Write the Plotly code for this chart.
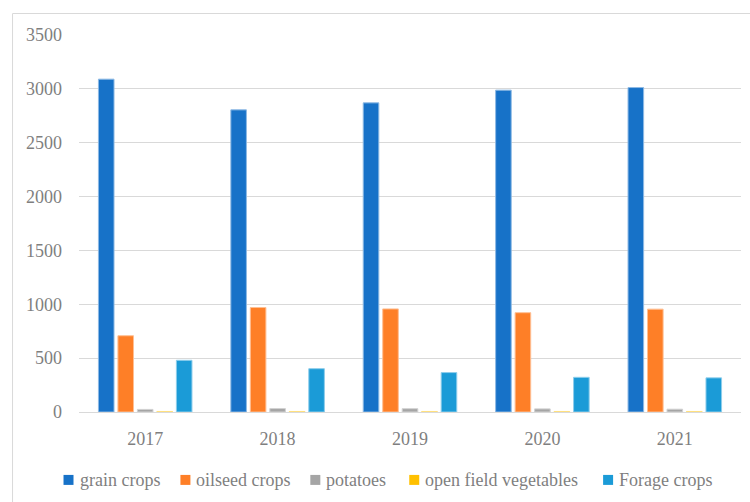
import plotly.graph_objects as go

years = ["2017", "2018", "2019", "2020", "2021"]
grain_crops = [3090, 2805, 2870, 2988, 3012]
oilseed_crops = [708, 970, 957, 922, 955]
potatoes = [24, 32, 31, 29, 26]
open_field_vegetables = [5, 5, 5, 5, 5]
forage_crops = [480, 402, 366, 322, 317]

series_names = ["grain crops", "oilseed crops", "potatoes", "open field vegetables", "Forage crops"]
series_values = [grain_crops, oilseed_crops, potatoes, open_field_vegetables, forage_crops]
colors = ["#1772C8", "#FE7F27", "#A5A5A5", "#FFC000", "#1B9BD7"]
edge_colors = ["#8DB9E4", "#FFBF93", "#D2D2D2", "#FFE080", "#8DCDEB"]

W, H = 750, 502
L, R, T, B = 78.5, 9, 34.5, 90
pw = W - L - R
ph = H - T - B

font_family = "Liberation Serif, Times New Roman, serif"
text_color = "#7F7F7F"

fig = go.Figure()
for name, vals, c, ec in zip(series_names, series_values, colors, edge_colors):
    fig.add_trace(go.Bar(
        x=years, y=vals, name=name,
        marker=dict(color=c, line=dict(color=ec, width=1)),
    ))


def px_x(p):
    return (p - L) / pw


def px_y(p):
    return 1 - (p - T) / ph


# chart-area border (Excel style)
fig.add_shape(type="rect", xref="paper", yref="paper",
              x0=px_x(12), x1=px_x(760), y0=px_y(512), y1=px_y(13),
              line=dict(color="#D9D9D9", width=1), fillcolor="rgba(0,0,0,0)",
              layer="below")

# Excel-style legend row (swatch + label), laid out like the reference
legend_left = [63, 180, 310, 409, 603]
legend_y = 480
for name, c, xl in zip(series_names, colors, legend_left):
    fig.add_shape(type="rect", xref="paper", yref="paper",
                  x0=px_x(xl), x1=px_x(xl + 10),
                  y0=px_y(legend_y + 5), y1=px_y(legend_y - 5),
                  line=dict(width=0), fillcolor=c)
    fig.add_annotation(xref="paper", yref="paper", x=px_x(xl + 14),
                       y=px_y(legend_y), xanchor="left", yanchor="middle",
                       text=name, showarrow=False,
                       font=dict(family=font_family, size=18, color=text_color))

fig.update_layout(
    width=W, height=H,
    margin=dict(l=L, r=R, t=T, b=B, autoexpand=False),
    paper_bgcolor="white", plot_bgcolor="white",
    barmode="group", bargap=0.264, bargroupgap=0.2,
    font=dict(family=font_family, size=18, color=text_color),
    showlegend=False,
    xaxis=dict(showgrid=False, showline=False, ticks="", ticklabelstandoff=14,
               tickfont=dict(family=font_family, size=18, color=text_color)),
    yaxis=dict(range=[0, 3500], dtick=500, tick0=0, showgrid=True,
               gridcolor="#D9D9D9", gridwidth=1, zeroline=True,
               zerolinecolor="#D9D9D9", zerolinewidth=1, showline=False,
               ticks="", ticklabelstandoff=16,
               tickfont=dict(family=font_family, size=18, color=text_color)),
)

fig.write_html("out.html")
